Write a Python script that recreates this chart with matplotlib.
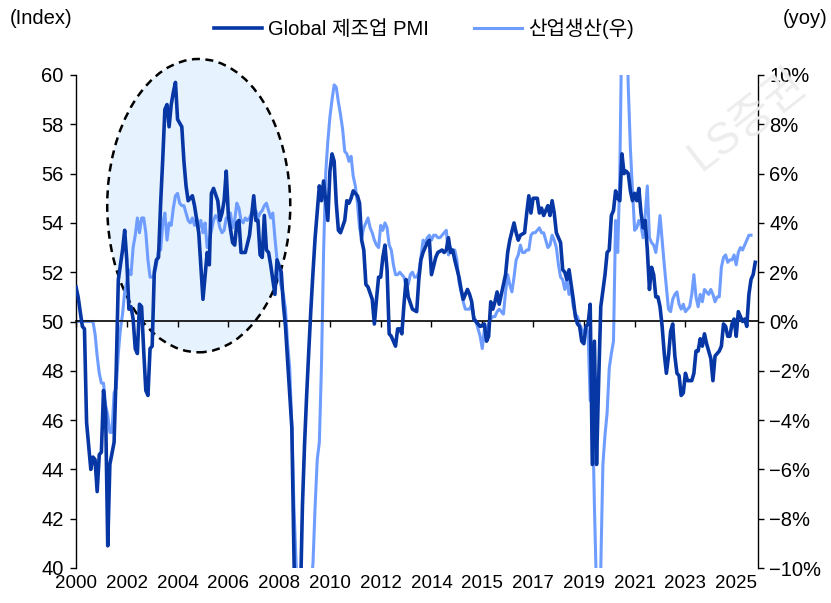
import matplotlib
matplotlib.use('Agg')
import matplotlib.pyplot as plt
from matplotlib.patches import Ellipse
from matplotlib.ticker import FuncFormatter

plt.rcParams['font.family'] = ['Liberation Sans Narrow', 'Liberation Sans', 'Noto Sans CJK KR', 'DejaVu Sans']

# month index along the x axis (0 = first month shown)
pmi_month = [0, 1, 3, 4, 5, 7, 8, 9, 10, 11, 12, 13, 14, 15, 16, 18, 19, 20, 22, 23,
             24, 25, 26, 27, 28, 29, 30, 31, 32, 33, 34, 35, 36, 37, 38, 39, 40, 41, 42, 43,
             44, 45, 46, 47, 48, 50, 51, 52, 53, 55, 56, 58, 60, 62, 63, 64, 65, 67, 68, 69,
             70, 71, 72, 74, 75, 76, 77, 78, 80, 82, 83, 84, 85, 86, 87, 88, 89, 90, 91, 92,
             93, 94, 95, 97, 98, 99, 100, 102, 103, 104, 105, 106, 107, 108, 109, 110, 111, 112, 113, 115,
             116, 117, 118, 119, 120, 121, 122, 123, 124, 125, 127, 128, 129, 130, 131, 132, 133, 134, 135, 136,
             137, 138, 140, 141, 142, 143, 144, 145, 146, 147, 148, 149, 151, 152, 153, 154, 155, 156, 157, 159,
             161, 162, 163, 164, 166, 167, 168, 170, 171, 173, 174, 175, 176, 177, 178, 179, 181, 182, 183, 185,
             186, 187, 188, 190, 191, 193, 194, 195, 196, 197, 198, 199, 200, 201, 203, 204, 205, 207, 208, 209,
             210, 212, 213, 214, 215, 216, 218, 219, 220, 221, 223, 224, 225, 226, 227, 229, 230, 231, 232, 233,
             234, 235, 236, 237, 238, 239, 240, 241, 242, 243, 244, 245, 246, 247, 248, 250, 251, 252, 253, 254,
             255, 256, 257, 258, 259, 260, 261, 262, 263, 264, 265, 266, 267, 268, 269, 270, 271, 272, 273, 274,
             275, 276, 277, 278, 279, 280, 281, 282, 283, 284, 285, 286, 287, 288, 289, 290, 291, 292, 293, 294,
             295, 296, 297, 298, 299, 300, 301, 302, 303, 304, 305, 306, 307, 308, 309, 310, 311, 312, 313, 314,
             315, 316, 317, 318, 319, 320, 321]
pmi_value = [51.4, 51.0, 49.8, 49.7, 45.9, 44.0, 44.5, 44.4, 43.1, 44.6, 44.7, 47.2, 46.3, 40.9, 44.2, 45.1, 48.0, 51.7, 52.9, 53.7,
             52.5, 50.5, 50.6, 50.1, 48.9, 48.7, 50.7, 50.6, 48.8, 47.2, 47.0, 48.9, 49.0, 52.0, 52.5, 52.6, 54.8, 56.6, 58.6, 58.8,
             57.9, 58.8, 59.3, 59.7, 58.2, 57.9, 56.5, 55.5, 54.9, 55.1, 54.7, 53.6, 50.9, 52.8, 52.3, 55.2, 55.4, 54.9, 54.1, 54.4,
             54.9, 56.1, 54.3, 53.2, 53.1, 54.0, 54.1, 52.8, 52.8, 53.5, 54.3, 55.1, 54.1, 54.1, 52.7, 52.6, 54.3, 52.9, 52.8, 52.3,
             51.7, 51.1, 52.5, 52.0, 50.7, 49.8, 48.4, 45.7, 40.5, 36.0, 35.5, 38.5, 42.5, 45.0, 47.0, 48.8, 50.5, 52.0, 53.4, 55.5,
             54.9, 55.7, 54.9, 54.1, 56.1, 56.8, 56.5, 54.8, 53.7, 53.6, 54.1, 54.9, 54.8, 55.0, 55.3, 55.2, 55.1, 54.8, 53.3, 52.9,
             51.5, 51.4, 50.9, 49.9, 50.9, 51.8, 51.8, 52.6, 53.1, 52.1, 49.5, 49.4, 49.0, 49.7, 49.7, 49.5, 50.7, 51.7, 51.0, 50.5,
             50.4, 51.7, 52.5, 52.8, 53.2, 53.3, 51.9, 52.6, 52.8, 52.9, 52.8, 52.9, 53.4, 52.8, 52.9, 52.5, 51.8, 51.3, 50.9, 51.3,
             51.1, 50.8, 50.1, 49.9, 49.8, 49.9, 49.2, 49.4, 50.8, 50.5, 50.8, 51.2, 50.7, 51.1, 51.9, 52.8, 53.3, 54.0, 53.6, 53.3,
             53.5, 53.6, 54.4, 55.1, 54.4, 55.0, 55.0, 54.4, 54.6, 54.3, 54.7, 54.3, 54.9, 54.4, 53.6, 53.2, 52.1, 52.0, 51.7, 52.1,
             51.5, 50.9, 50.2, 49.9, 49.8, 49.2, 49.1, 49.8, 49.9, 50.7, 44.2, 49.2, 44.2, 47.6, 50.6, 51.9, 52.8, 52.9, 54.3, 54.5,
             55.3, 55.0, 54.9, 56.8, 56.0, 56.1, 56.0, 55.3, 54.9, 55.2, 54.9, 55.4, 54.4, 53.8, 54.1, 52.9, 51.3, 52.2, 51.9, 51.0,
             51.0, 50.6, 49.8, 48.7, 47.9, 48.6, 49.6, 49.9, 48.6, 47.9, 47.8, 47.0, 47.1, 47.9, 47.6, 47.6, 47.6, 47.9, 48.8, 48.8,
             49.3, 49.0, 49.5, 49.1, 48.8, 48.5, 47.6, 48.6, 48.7, 48.8, 49.0, 49.9, 49.8, 49.4, 49.4, 49.9, 50.1, 49.4, 50.4, 50.2,
             50.0, 50.1, 49.8, 51.1, 51.7, 51.9, 52.4]

ip_month = [0, 8] + list(range(9, 320))
ip_yoy = [0.0, 0.0, -0.5, -1.4, -2.1, -2.5, -2.5, -3.4, -3.8, -4.5, -4.5, -2.9, -2.7, -1.3, -0.3, 0.3,
          1.2, 1.6, 2.1, 1.9, 3.0, 3.5, 4.2, 3.6, 4.2, 4.2, 3.6, 2.5, 1.8, 1.8, 1.9, 2.3,
          2.9, 2.9, 4.0, 4.4, 3.3, 4.0, 3.9, 4.6, 5.1, 5.2, 4.8, 4.7, 4.7, 4.4, 4.1, 4.0,
          4.2, 3.9, 4.2, 3.8, 4.1, 3.6, 4.0, 3.0, 3.3, 3.7, 4.1, 4.3, 4.2, 3.8, 3.6, 3.7,
          4.2, 4.2, 4.4, 3.8, 4.1, 4.8, 4.6, 4.1, 4.0, 4.2, 4.1, 4.2, 4.4, 4.4, 4.5, 4.2,
          4.4, 4.5, 4.7, 4.8, 4.5, 4.2, 4.4, 3.4, 2.5, 1.8, 1.4, 1.1, 0.5, -0.9, -1.9, -4.3,
          -7.5, -9.8, -11.5, -13.0, -13.5, -13.0, -12.0, -11.5, -10.8, -9.8, -7.5, -5.6, -4.9, -1.8, 2.8, 6.0,
          7.3, 8.3, 9.0, 9.6, 9.5, 8.9, 8.4, 7.8, 6.9, 6.8, 6.5, 6.7, 5.9, 5.5, 4.8, 3.8,
          3.4, 3.8, 4.0, 4.2, 3.8, 3.6, 3.3, 3.1, 3.0, 3.9, 3.7, 4.0, 3.8, 3.1, 2.9, 2.3,
          1.9, 1.9, 2.0, 1.9, 1.8, 1.4, 1.5, 1.9, 2.0, 1.8, 1.8, 2.0, 2.6, 3.3, 3.2, 3.4,
          3.5, 3.3, 3.5, 3.5, 3.4, 3.4, 3.5, 3.6, 3.7, 2.7, 3.0, 2.8, 2.9, 2.5, 1.6, 1.2,
          0.8, 0.5, 0.5, 0.5, 0.7, 0.2, 0.0, -0.3, -0.6, -1.1, -0.3, -0.3, -0.1, 0.1, 0.2, 0.2,
          0.4, 0.5, 0.4, 0.3, 1.2, 1.9, 1.5, 1.2, 1.8, 2.5, 2.7, 3.1, 2.8, 2.8, 2.9, 2.9,
          3.5, 3.6, 3.6, 3.7, 3.8, 3.6, 3.6, 3.3, 3.0, 3.1, 3.5, 3.3, 3.0, 2.3, 1.8, 1.7,
          1.3, 1.7, 1.1, 1.3, 0.6, 0.3, 0.2, -0.1, -0.3, -0.5, -0.2, -0.5, -3.2, -3.3, -7.5, -11.0,
          -13.5, -10.0, -5.8, -4.6, -3.7, -1.9, -1.3, -0.8, 4.1, 2.8, 6.0, 12.5, 15.0, 13.0, 9.5, 7.0,
          5.3, 3.7, 3.8, 4.1, 3.9, 3.4, 4.3, 5.5, 3.4, 3.2, 3.1, 2.8, 3.4, 4.3, 3.3, 2.3,
          1.4, 0.5, 0.4, 0.9, 1.1, 1.2, 0.7, 0.5, 0.7, 0.4, 0.5, 0.6, 1.1, 1.9, 1.0, 0.6,
          1.1, 0.8, 1.3, 1.2, 1.1, 1.3, 1.1, 0.8, 1.0, 1.0, 2.2, 2.6, 2.7, 2.4, 2.5, 2.5,
          2.7, 2.3, 2.8, 3.0, 2.9, 3.1, 3.3, 3.5, 3.5]

tick_month = [0, 24, 48, 72, 96, 120, 144, 168, 192, 216, 240, 264, 288, 312]
tick_label = ['2000', '2002', '2004', '2006', '2008', '2010', '2012', '2014',
              '2015', '2017', '2019', '2021', '2023', '2025']

dark_blue = '#0637A5'
light_blue = '#6F9DFF'

fig = plt.figure(figsize=(8.31, 6.03), dpi=100)
ax2 = fig.add_axes([76 / 831, 35 / 603, 682 / 831, 493 / 603])
ax = ax2.twinx()
ax.yaxis.tick_left()
ax2.yaxis.tick_right()

# highlighted period
circle = Ellipse((58, 4.7), width=86.5, height=11.9, facecolor='#E6F2FD',
                 edgecolor='black', linestyle=(0, (3.2, 2.2)), linewidth=1.8,
                 clip_on=False, zorder=1)
ax2.add_patch(circle)

l2, = ax2.plot(ip_month, ip_yoy, color=light_blue, lw=2.2, zorder=2, label='산업생산(우)')
l1, = ax.plot(pmi_month, pmi_value, color=dark_blue, lw=2.6, zorder=3, label='Global 제조업 PMI')

ax.set_xlim(0, 322.3)
ax.set_ylim(40, 60)
ax.set_yticks(range(40, 61, 2))
ax2.set_ylim(-10, 10)
ax2.set_yticks(range(-10, 11, 2))
ax2.yaxis.set_major_formatter(FuncFormatter(lambda v, p: f'{v:.0f}%'.replace('-', '\u2212')))

ax2.set_xticks(tick_month)
ax2.set_xticklabels(tick_label)
ax2.tick_params(axis='x', length=0, pad=5, labelsize=13.5)
ax2.tick_params(axis='y', direction='out', length=4, width=1, pad=4, labelsize=14.5)
ax.tick_params(axis='y', direction='out', length=4, width=1, pad=5, labelsize=14.5)

for s in ['top', 'bottom', 'left']:
    ax2.spines[s].set_visible(False)
for s in ['top', 'bottom', 'right']:
    ax.spines[s].set_visible(False)
ax.spines['left'].set_linewidth(1)
ax2.spines['right'].set_linewidth(1)

# zero line with tick marks
zero = ax.secondary_xaxis(0.5)
zero.set_xticks(tick_month)
zero.tick_params(direction='in', length=4, width=1, labeltop=False, labelbottom=False)
zero.spines['top'].set_linewidth(1.2)

fig.text(10 / 831, 1 - 18 / 603, '(Index)', ha='left', va='center', fontsize=14.5)
fig.text(828 / 831, 1 - 18 / 603, '(yoy)', ha='right', va='center', fontsize=14.5)
fig.legend([l1, l2], [l1.get_label(), l2.get_label()], loc='center',
           bbox_to_anchor=(0.51, 1 - 29 / 603), ncol=2, frameon=False, fontsize=14.5,
           handlelength=2.4, handletextpad=0.3, columnspacing=2.2)

# faint watermark
fig.text(0.9, 0.8, 'LS증권', rotation=38, fontsize=32, color='#ededed',
         ha='center', va='center')

fig.savefig('out.png', dpi=100)
